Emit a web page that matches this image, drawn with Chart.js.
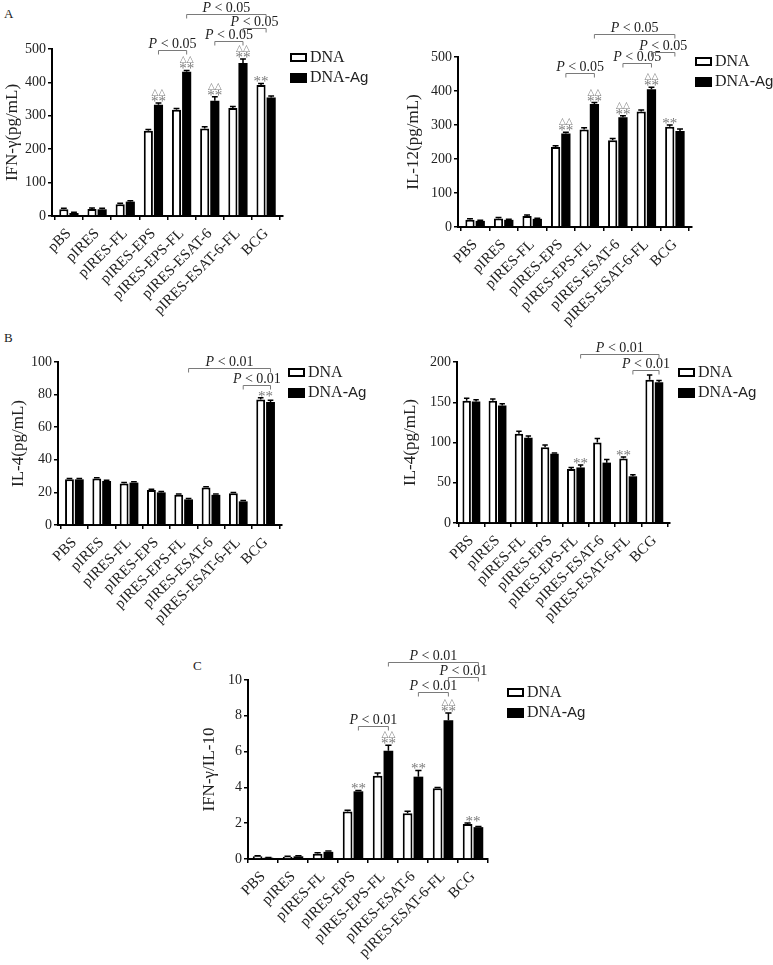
<!DOCTYPE html>
<html>
<head>
<meta charset="utf-8">
<script src="https://cdn.jsdelivr.net/npm/chart.js@4.4.1/dist/chart.umd.min.js"></script>
<style>
  body { margin: 0; background: #fff; width: 773px; height: 965px; position: relative; overflow: hidden; }
  .p { position: absolute; }
  .tag { position: absolute; font: 13px "Liberation Serif", serif; color: #222; }
</style>
</head>
<body>
<div class="tag" style="left:4px;top:6px">A</div>
<div class="tag" style="left:4px;top:330px">B</div>
<div class="tag" style="left:193px;top:658px">C</div>
<div class="p" id="w1"><canvas id="c1"></canvas></div>
<div class="p" id="w2"><canvas id="c2"></canvas></div>
<div class="p" id="w3"><canvas id="c3"></canvas></div>
<div class="p" id="w4"><canvas id="c4"></canvas></div>
<div class="p" id="w5"><canvas id="c5"></canvas></div>
<script>
// groups on the x axis
const groupsA = ["pBS", "pIRES", "pIRES-FL", "pIRES-EPS", "pIRES-EPS-FL", "pIRES-ESAT-6", "pIRES-ESAT-6-FL", "BCG"];
const groups = ["PBS", "pIRES", "pIRES-FL", "pIRES-EPS", "pIRES-EPS-FL", "pIRES-ESAT-6", "pIRES-ESAT-6-FL", "BCG"];

// A left - IFN-γ
const ifnDNA = [20, 21, 35, 255, 318, 262, 323, 392];
const ifnDNAErr = [3, 3, 3, 4, 4, 5, 5, 5];
const ifnAg = [9, 20, 43, 333, 432, 345, 458, 355];
const ifnAgErr = [2, 3, 3, 5, 4, 12, 12, 4];

// A right - IL-12
const il12DNA = [21, 25, 32, 235, 287, 255, 340, 295];
const il12DNAErr = [3, 3, 3, 4, 5, 5, 4, 5];
const il12Ag = [18, 21, 24, 275, 362, 323, 405, 282];
const il12AgErr = [2, 2, 2, 4, 4, 4, 6, 6];

// B left - IL-4
const il4DNA = [28, 28.5, 25.5, 21.5, 18.5, 23, 19.5, 77];
const il4DNAErr = [0.5, 0.5, 0.5, 0.5, 0.5, 0.5, 0.5, 1];
const il4Ag = [28, 27, 26, 20, 15.7, 18.5, 14.5, 75.5];
const il4AgErr = [0.5, 0.5, 0.5, 0.5, 0.5, 0.5, 0.5, 1];

// B right - IL-4
const il4bDNA = [152, 152, 111, 94, 67, 100, 80, 178];
const il4bDNAErr = [3, 2, 3, 3, 2, 5, 2, 6];
const il4bAg = [151, 146, 106, 86, 69, 75, 58, 175];
const il4bAgErr = [2, 2, 2, 1, 3, 4, 2, 2];

// C - IFN-γ/IL-10
const ratioDNA = [0.15, 0.12, 0.3, 2.65, 4.65, 2.55, 3.95, 1.95];
const ratioDNAErr = [0.03, 0.03, 0.05, 0.08, 0.15, 0.12, 0.05, 0.06];
const ratioAg = [0.07, 0.15, 0.4, 3.78, 6.05, 4.6, 7.75, 1.78];
const ratioAgErr = [0.02, 0.03, 0.05, 0.05, 0.3, 0.35, 0.4, 0.04];

// marks: [group, dataset (0 DNA, 1 DNA-Ag, -1 middle), text]
const ifnMarks = [[3, 1, "△△**"], [4, 1, "△△**"], [5, 1, "△△**"], [6, 1, "△△**"], [7, 0, "**"]];
const il12Marks = [[3, 1, "△△**"], [4, 1, "△△**"], [5, 1, "△△**"], [6, 1, "△△**"], [7, 0, "**"]];
const il4Marks = [[7, -1, "**"]];
const il4bMarks = [[4, 1, "**"], [6, 0, "**"]];
const ratioMarks = [[3, 1, "**"], [4, 1, "△△**"], [5, 1, "**"], [6, 1, "△△**"], [7, -1, "**"]];

// brackets: [fromGroup, fromSet, toGroup, toSet, level, label]
const ifnBrackets = [[3, 1, 4, 1, 497, "0.05"], [5, 1, 6, 1, 524, "0.05"], [6, 1, 7, -1, 563, "0.05"], [4, 1, 7, -1, 605, "0.05"]];
const il12Brackets = [[3, 1, 4, 1, 453, "0.05"], [5, 1, 6, 1, 482, "0.05"], [6, 1, 7, -1, 515, "0.05"], [4, 1, 7, -1, 568, "0.05"]];
const il4Brackets = [[4, 1, 7, 1, 96.3, "0.01"], [6, 1, 7, 1, 85.9, "0.01"]];
const il4bBrackets = [[4, 1, 7, 1, 210, "0.01"], [6, 1, 7, 1, 190, "0.01"]];
const ratioBrackets = [[3, 1, 4, 1, 7.43, "0.01"], [5, 1, 6, 1, 9.35, "0.01"], [6, 1, 7, 1, 10.18, "0.01"], [4, 1, 7, 1, 11.02, "0.01"]];

const SERIF = '"Liberation Serif", "Times New Roman", serif';
const INK = "#222";
const GREY = "#7a7a7a";

function extras(d) {
  return {
    id: "extras",
    afterDraw(chart) {
      const ctx = chart.ctx;
      const xs = chart.scales.x, ys = chart.scales.y;
      const barX = (g, s) => s < 0 ? xs.getPixelForValue(g) : chart.getDatasetMeta(s).data[g].x;
      const tops = [[], []];
      ctx.save();
      // error bars
      ctx.strokeStyle = "#000";
      ctx.lineWidth = 1.5;
      chart.data.datasets.forEach((ds, di) => {
        chart.getDatasetMeta(di).data.forEach((bar, i) => {
          const v = ds.data[i].y;
          const top = ys.getPixelForValue(v + ds.err[i]);
          tops[di][i] = top;
          const cap = bar.width * 0.32;
          ctx.beginPath();
          ctx.moveTo(bar.x, bar.y);
          ctx.lineTo(bar.x, top);
          ctx.moveTo(bar.x - cap, top);
          ctx.lineTo(bar.x + cap, top);
          ctx.stroke();
        });
      });
      // significance marks
      ctx.fillStyle = GREY;
      ctx.textAlign = "center";
      ctx.textBaseline = "alphabetic";
      d.marks.forEach(([g, s, txt]) => {
        const x = barX(g, s);
        const top = s < 0 ? Math.min(tops[0][g], tops[1][g]) : tops[s][g];
        ctx.font = "15px " + SERIF;
        ctx.fillText("**", x, top + 3);
        if (txt.startsWith("△△")) {
          ctx.font = "9px 'DejaVu Sans'";
          ctx.fillText("△△", x, top - 8);
        }
      });
      // brackets
      d.brackets.forEach(([g1, s1, g2, s2, lvl, p]) => {
        const x1 = barX(g1, s1), x2 = barX(g2, s2);
        const y = Math.round(ys.getPixelForValue(lvl)) + 0.5;
        ctx.strokeStyle = GREY;
        ctx.lineWidth = 1;
        ctx.beginPath();
        ctx.moveTo(x1, y + 4);
        ctx.lineTo(x1, y);
        ctx.lineTo(x2, y);
        ctx.lineTo(x2, y + 4);
        ctx.stroke();
        ctx.fillStyle = INK;
        ctx.font = "italic 14px " + SERIF;
        const wP = ctx.measureText("P").width;
        ctx.font = "14px " + SERIF;
        const rest = " < " + p;
        const wR = ctx.measureText(rest).width;
        const x0 = (x1 + x2) / 2 - (wP + wR) / 2;
        ctx.textAlign = "left";
        ctx.font = "italic 14px " + SERIF;
        ctx.fillText("P", x0, y - 3);
        ctx.font = "14px " + SERIF;
        ctx.fillText(rest, x0 + wP, y - 3);
        ctx.textAlign = "center";
      });
      // legend
      const lx = chart.chartArea.right + d.legend[0], ly = chart.chartArea.top + d.legend[1];
      ctx.lineWidth = 2;
      ctx.strokeStyle = "#000";
      ctx.fillStyle = "#fff";
      ctx.fillRect(lx, ly, 17, 9);
      ctx.strokeRect(lx + 1, ly + 1, 15, 7);
      ctx.fillStyle = "#000";
      ctx.fillRect(lx, ly + 20, 17, 10);
      ctx.fillStyle = INK;
      ctx.textAlign = "left";
      ctx.textBaseline = "middle";
      ctx.font = "16px " + SERIF;
      ctx.fillText("DNA", lx + 20, ly + 5);
      const wD = ctx.measureText("DNA-").width;
      ctx.fillText("DNA-", lx + 20, ly + 25);
      ctx.font = "15px 'Liberation Sans', sans-serif";
      ctx.fillText("Ag", lx + 20 + wD, ly + 25);
      ctx.restore();
    }
  };
}

function panel(n, box, area, d) {
  const [left, top, w, h] = box;
  const wrap = document.getElementById("w" + n);
  wrap.style.left = left + "px";
  wrap.style.top = top + "px";
  const cv = document.getElementById("c" + n);
  cv.width = w;
  cv.height = h;
  const L = area[0] - left, T = area[1] - top, R = area[2] - left, B = area[3] - top;
  const axisGrid = { display: true, drawOnChartArea: false, drawTicks: true, tickLength: 4, color: "#000", lineWidth: 1.5 };
  const axisBorder = { display: true, color: "#000", width: 2 };
  new Chart(cv, {
    type: "bar",
    data: {
      datasets: [
        { label: "DNA", data: d.dna.map((v, i) => ({ x: i, y: v })), err: d.dnaErr,
          backgroundColor: "#fff", borderColor: "#000", borderWidth: 2, borderSkipped: "bottom" },
        { label: "DNA-Ag", data: d.ag.map((v, i) => ({ x: i, y: v })), err: d.agErr,
          backgroundColor: "#000", borderColor: "#000", borderWidth: 0 }
      ]
    },
    options: {
      responsive: false,
      animation: false,
      devicePixelRatio: 1,
      categoryPercentage: 0.72,
      barPercentage: 0.9,
      layout: { padding: { left: 0, top: T, right: w - R, bottom: 0 } },
      plugins: { legend: { display: false }, tooltip: { enabled: false } },
      scales: {
        x: {
          type: "linear",
          min: -d.pad[0],
          max: d.labels.length - 1 + d.pad[1],
          offset: false,
          afterBuildTicks: s => { s.ticks = d.labels.map((_, i) => ({ value: i })); },
          afterFit: s => { s.height = h - B; },
          ticks: { autoSkip: false, minRotation: 45, maxRotation: 45, padding: 5, color: INK,
                   font: { family: SERIF, size: 15 }, callback: v => d.labels[v] },
          grid: axisGrid,
          border: axisBorder
        },
        y: {
          min: 0,
          max: d.max,
          afterFit: s => { s.width = L; },
          ticks: { stepSize: d.step, padding: 2, color: INK, font: { family: SERIF, size: 14 } },
          title: { display: true, text: d.title, color: INK, font: { family: SERIF, size: 17 },
                   padding: { top: d.titlePad, bottom: 0 } },
          grid: axisGrid,
          border: axisBorder
        }
      }
    },
    plugins: [extras(d)]
  });
}

panel(1, [0, 0, 390, 330], [52, 49, 283, 216], {
  labels: groupsA, dna: ifnDNA, dnaErr: ifnDNAErr, ag: ifnAg, agErr: ifnAgErr,
  max: 500, step: 100, title: "IFN-γ(pg/mL)", titlePad: 2, pad: [0.6, 0.6],
  marks: ifnMarks, brackets: ifnBrackets, legend: [7, 4]
});
panel(2, [390, 0, 383, 330], [458, 57, 692, 227], {
  labels: groups, dna: il12DNA, dnaErr: il12DNAErr, ag: il12Ag, agErr: il12AgErr,
  max: 500, step: 100, title: "IL-12(pg/mL)", titlePad: 13, pad: [0.6, 0.6],
  marks: il12Marks, brackets: il12Brackets, legend: [3, 0]
});
panel(3, [0, 330, 390, 300], [58, 362, 282, 525], {
  labels: groups, dna: il4DNA, dnaErr: il4DNAErr, ag: il4Ag, agErr: il4AgErr,
  max: 100, step: 20, title: "IL-4(pg/mL)", titlePad: 8, pad: [0.6, 0.6],
  marks: il4Marks, brackets: il4Brackets, legend: [6, 6]
});
panel(4, [390, 330, 383, 300], [457, 362, 670, 523], {
  labels: groups, dna: il4bDNA, dnaErr: il4bDNAErr, ag: il4bAg, agErr: il4bAgErr,
  max: 200, step: 50, title: "IL-4(pg/mL)", titlePad: 10, pad: [0.55, 0.6],
  marks: il4bMarks, brackets: il4bBrackets, legend: [8, 6]
});
panel(5, [180, 630, 420, 335], [248, 680, 488, 859], {
  labels: groups, dna: ratioDNA, dnaErr: ratioDNAErr, ag: ratioAg, agErr: ratioAgErr,
  max: 10, step: 2, title: "IFN-γ/IL-10", titlePad: 19, pad: [0.5, 0.5],
  marks: ratioMarks, brackets: ratioBrackets, legend: [19, 8]
});
</script>
</body>
</html>
